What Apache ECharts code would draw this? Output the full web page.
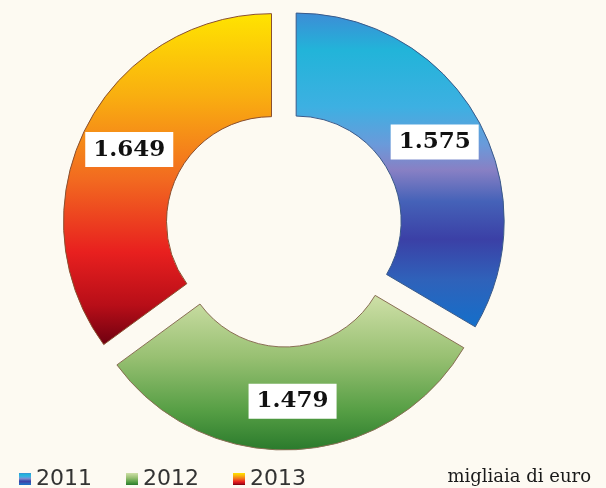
<!DOCTYPE html>
<html>
<head>
<meta charset="utf-8">
<script src="https://cdn.jsdelivr.net/npm/echarts@6/dist/echarts.min.js"></script>
<style>
  html, body { margin: 0; padding: 0; background: #fdfaf2; }
  #main { width: 606px; height: 488px; }
</style>
</head>
<body>
<div id="main"></div>
<script>
var chartDom = document.getElementById('main');
var myChart = echarts.init(chartDom);

// values in thousands of euro
const years = ['2011', '2012', '2013'];
const values = [1575, 1479, 1649];
const valueLabels = ['1.575', '1.479', '1.649'];

const grad = echarts.graphic.LinearGradient;
const fills = [
    new grad(0, 0, 0, 1, [
        { offset: 0, color: '#3d8cd6' },
        { offset: 0.12, color: '#22b4d9' },
        { offset: 0.3, color: '#3db0e2' },
        { offset: 0.42, color: '#6a9ada' },
        { offset: 0.5, color: '#8880c4' },
        { offset: 0.6, color: '#4562b8' },
        { offset: 0.72, color: '#3b40a6' },
        { offset: 0.85, color: '#2f62ba' },
        { offset: 1, color: '#146fca' }
    ]),
    new grad(0, 0, 0, 1, [
        { offset: 0, color: '#cfe0a8' },
        { offset: 0.4, color: '#98c072' },
        { offset: 0.75, color: '#559e44' },
        { offset: 1, color: '#2a7a2c' }
    ]),
    new grad(0, 0, 0, 1, [
        { offset: 0, color: '#ffe400' },
        { offset: 0.25, color: '#f9ae10' },
        { offset: 0.5, color: '#f26a20' },
        { offset: 0.72, color: '#e8201f' },
        { offset: 0.88, color: '#b80e18' },
        { offset: 1, color: '#6e0010' }
    ])
];
const borders = ['#3a5a8a', '#8a6f55', '#8a5030'];

var pieData = years.map(function(y, i) {
    return {
        name: y,
        value: values[i],
        selected: true,
        itemStyle: { color: fills[i], borderColor: borders[i], borderWidth: 1 }
    };
});

var option = {
    backgroundColor: '#fdfaf2',
    animation: false,
    legend: {
        data: years,
        left: 14,
        top: 463,
        icon: 'rect',
        itemWidth: 12,
        itemHeight: 12,
        itemGap: 34,
        selectedMode: false,
        itemStyle: { borderWidth: 0 },
        textStyle: {
            fontFamily: 'DejaVu Sans',
            fontSize: 22,
            color: '#333'
        }
    },
    title: {
        text: 'migliaia di euro',
        right: 10,
        top: 463,
        textStyle: {
            fontFamily: 'DejaVu Serif',
            fontSize: 18,
            fontWeight: 'normal',
            color: '#1a1a1a'
        }
    },
    series: [{
        type: 'pie',
        center: [284, 228],
        radius: [105, 208],
        startAngle: 90,
        clockwise: true,
        selectedMode: 'multiple',
        selectedOffset: 14,
        emphasis: { disabled: true },
        label: {
            position: 'inside',
            formatter: function(p) {
                return valueLabels[p.dataIndex];
            },
            backgroundColor: '#ffffff',
            padding: [6, 8],
            color: '#111',
            fontFamily: 'DejaVu Serif',
            fontWeight: 'bold',
            fontSize: 23
        },
        labelLine: { show: false },
        data: pieData
    }]
};

option && myChart.setOption(option);
</script>
</body>
</html>
